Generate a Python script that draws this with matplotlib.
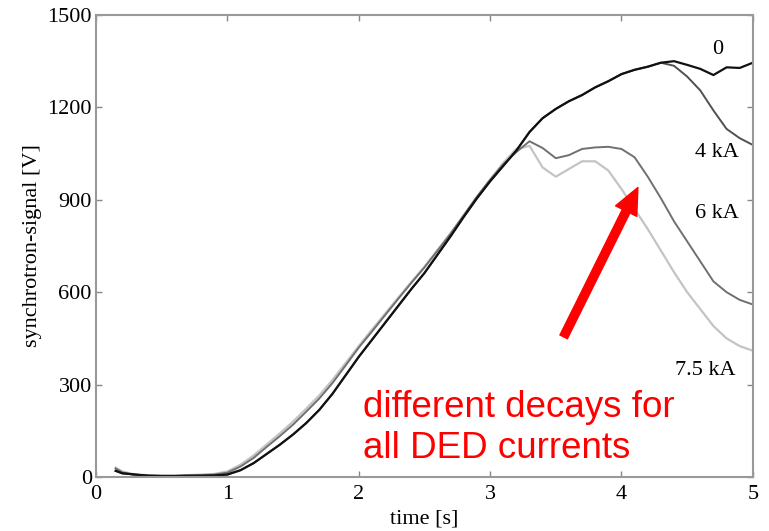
"""Synchrotron signal versus time for several DED currents."""

import matplotlib

matplotlib.use("Agg")
import matplotlib.pyplot as plt
from matplotlib.patches import FancyArrowPatch

# time axis [s]: first sample at 0.15 s, then every 0.1 s
time_s = [0.15] + [round(0.1 * k, 1) for k in range(2, 51)]

sig_0ka = [20, 12, 8, 4, 3, 3, 4, 4, 5, 8,
           22, 45, 75, 105, 138, 175, 218, 270, 330, 390,
           445, 500, 555, 610, 662, 722, 782, 845, 905, 960,
           1010, 1060, 1120, 1165, 1195, 1220, 1240, 1265, 1285, 1308,
           1322, 1332, 1345, 1350, 1338, 1325, 1305, 1330, 1328, 1345]
sig_4ka = [20, 12, 8, 4, 3, 3, 4, 4, 5, 8,
           22, 45, 75, 105, 138, 175, 218, 270, 330, 390,
           445, 500, 555, 610, 662, 722, 782, 845, 905, 960,
           1010, 1060, 1120, 1165, 1195, 1220, 1240, 1265, 1285, 1308,
           1322, 1332, 1345, 1335, 1300, 1255, 1190, 1130, 1100, 1078]
sig_6ka = [28, 15, 6, 5, 4, 4, 5, 6, 8, 14,
           34, 62, 98, 133, 170, 212, 255, 305, 362, 420,
           472, 525, 578, 630, 680, 735, 790, 850, 910, 965,
           1015, 1055, 1090, 1068, 1035, 1045, 1065, 1070, 1072, 1065,
           1038, 975, 905, 830, 765, 700, 635, 600, 575, 560]
sig_75ka = [30, 18, 8, 6, 5, 5, 6, 8, 10, 18,
            40, 70, 106, 142, 180, 222, 265, 315, 370, 425,
            478, 530, 582, 633, 683, 737, 792, 850, 910, 965,
            1020, 1065, 1075, 1005, 975, 1000, 1025, 1025, 995, 935,
            870, 805, 735, 665, 600, 545, 490, 450, 425, 410]

curve_labels = ["0", "4 kA", "6 kA", "7.5 kA"]
label_pos = [(4.73, 1388), (4.73, 1052), (4.73, 857), (4.64, 347)]

serif = "Liberation Serif"

fig = plt.figure(figsize=(7.69, 5.31), dpi=100)
ax = fig.add_axes([0.1248, 0.1017, 0.979 - 0.1248, 0.9718 - 0.1017])

ax.plot(time_s, sig_75ka, color="#c4c4c4", lw=1.6)
ax.plot(time_s, sig_6ka, color="#707070", lw=1.4)
ax.plot(time_s, sig_4ka, color="#505050", lw=1.4)
ax.plot(time_s, sig_0ka, color="#111111", lw=1.6)

for text, (tx, ty) in zip(curve_labels, label_pos):
    ax.text(tx, ty, text, family=serif, fontsize=16, ha="center", va="center")

ax.set_xlim(0, 5)
ax.set_ylim(0, 1500)
ax.set_xticks([0, 1, 2, 3, 4, 5])
ax.set_yticks([0, 300, 600, 900, 1200, 1500])
ax.tick_params(direction="in", length=4, width=1, color="#888888",
               top=True, right=True, labelsize=16)
ax.tick_params(axis="x", pad=6)
ax.tick_params(axis="y", pad=3)
for lab in ax.get_xticklabels() + ax.get_yticklabels():
    lab.set_family(serif)
for sp in ax.spines.values():
    sp.set_color("#999999")
    sp.set_linewidth(1.5)

ax.set_xlabel("time [s]", family=serif, fontsize=16, labelpad=4)
ax.set_ylabel("synchrotron-signal [V]", family=serif, fontsize=16, labelpad=4)

# red annotation: arrow pointing at the decay region plus caption
arrow = FancyArrowPatch(
    (3.56, 455), (4.125, 940),
    arrowstyle="simple,head_length=1.9,head_width=1.7,tail_width=0.6",
    mutation_scale=10, color="red", shrinkA=0, shrinkB=0, zorder=5,
)
ax.add_patch(arrow)
ax.text(2.03, 282, "different decays for\nall DED currents",
        family="Liberation Sans", fontsize=26.5, color="red",
        ha="left", va="top", linespacing=1.22)

fig.savefig("out.png", dpi=100)
